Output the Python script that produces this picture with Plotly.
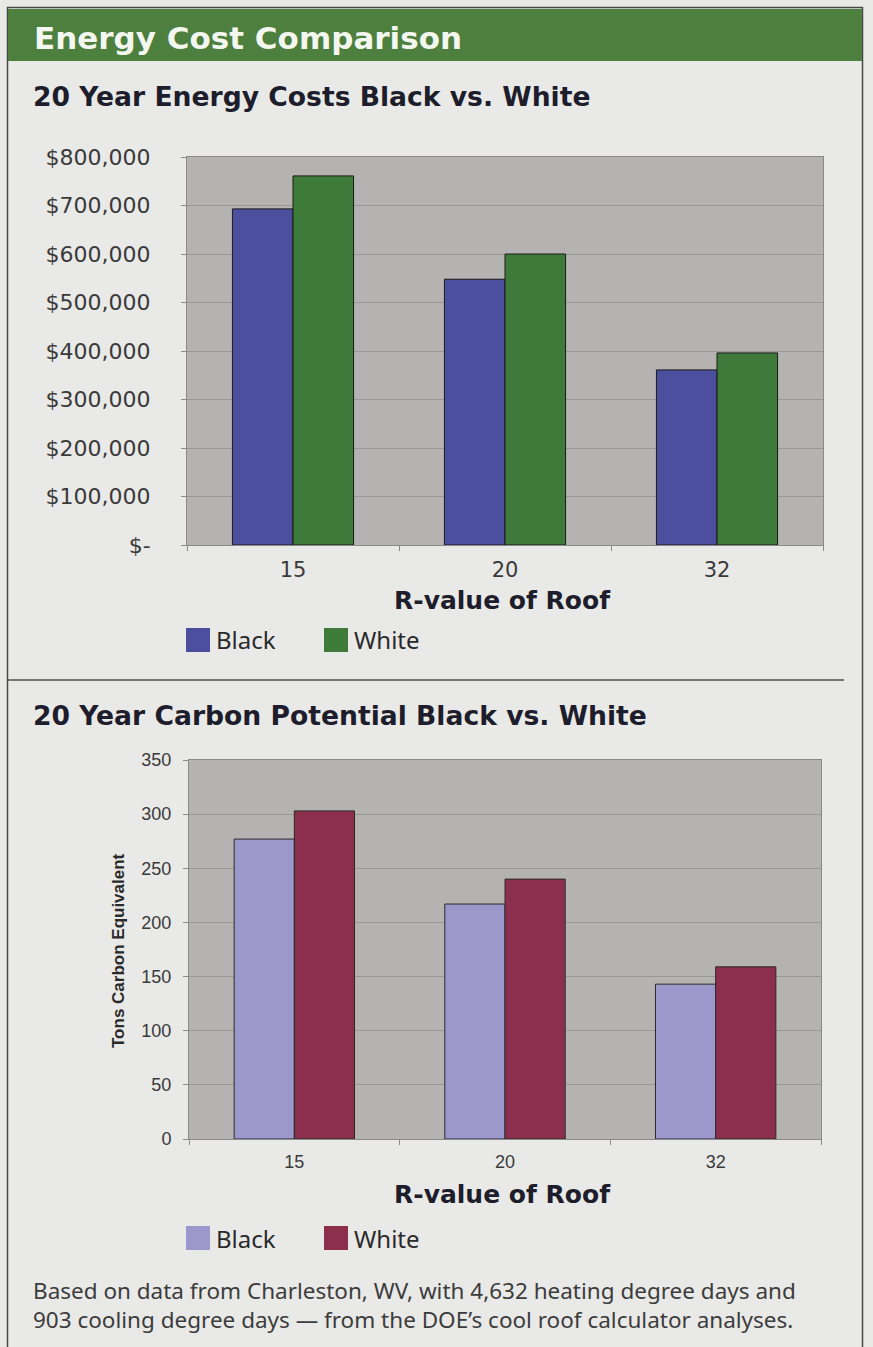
import plotly.graph_objects as go

W, H = 873, 1347

# ---- data ----
r_values = ["15", "20", "32"]
series_names = ["Black", "White"]
energy_black = [693000, 548000, 361000]
energy_white = [761000, 600000, 396000]
energy_ticks = [0, 100000, 200000, 300000, 400000, 500000, 600000, 700000, 800000]
energy_ticktext = ["$-", "$100,000", "$200,000", "$300,000", "$400,000",
                   "$500,000", "$600,000", "$700,000", "$800,000"]
carbon_black = [277, 217, 143]
carbon_white = [303, 240, 159]
carbon_ticks = [0, 50, 100, 150, 200, 250, 300, 350]

# ---- styles ----
C_E_BLACK = "#4b4f9e"
C_E_WHITE = "#3e7b3a"
C_C_BLACK = "#9c98cc"
C_C_WHITE = "#8c2f4f"
PLOT_BG = "#b5b3b1"
PAGE_BG = "#e9e9e7"
GRID = "#9a9896"
HEADER_GREEN = "#4d7f3e"
TITLE_COLOR = "#1d1d2b"


def px(x):
    return x / W


def py(y):
    return 1 - y / H


fig = go.Figure()
fig.add_trace(go.Bar(x=r_values, y=energy_black, name=series_names[0],
                     marker=dict(color=C_E_BLACK, line=dict(color="#1a1a1a", width=1)),
                     xaxis="x", yaxis="y", showlegend=False))
fig.add_trace(go.Bar(x=r_values, y=energy_white, name=series_names[1],
                     marker=dict(color=C_E_WHITE, line=dict(color="#1a1a1a", width=1)),
                     xaxis="x", yaxis="y", showlegend=False))
fig.add_trace(go.Bar(x=r_values, y=carbon_black, name=series_names[0],
                     marker=dict(color=C_C_BLACK, line=dict(color="#2a2a2a", width=1)),
                     xaxis="x2", yaxis="y2", showlegend=False))
fig.add_trace(go.Bar(x=r_values, y=carbon_white, name=series_names[1],
                     marker=dict(color=C_C_WHITE, line=dict(color="#2a2a2a", width=1)),
                     xaxis="x2", yaxis="y2", showlegend=False))

wide_font = "DejaVu Sans, Verdana, sans-serif"
arial = "Liberation Sans, Arial, sans-serif"
leg_font = "Noto Sans, Lato, sans-serif"

fig.update_layout(
    width=W, height=H,
    margin=dict(l=0, r=0, t=0, b=0, pad=0, autoexpand=False),
    paper_bgcolor=PAGE_BG,
    plot_bgcolor=PLOT_BG,
    barmode="group", bargap=0.4286, bargroupgap=0,
    xaxis=dict(domain=[px(187), px(823)], anchor="y", type="category", automargin=False,
               ticks="outside", tickson="boundaries", ticklen=5, tickcolor="#8a8a8a",
               showline=True, linecolor="#8a8a8a", mirror=True,
               tickfont=dict(family=wide_font, size=21, color="#3a3a3a"),
               ticklabelstandoff=6, showgrid=False),
    yaxis=dict(domain=[py(545), py(157)], anchor="x", range=[0, 800000], automargin=False,
               tickvals=energy_ticks, ticktext=energy_ticktext,
               ticks="outside", ticklen=5, tickcolor="#8a8a8a",
               showline=True, linecolor="#8a8a8a", mirror=True,
               gridcolor=GRID, gridwidth=1, zeroline=False,
               tickfont=dict(family=wide_font, size=22, color="#3a3a3a"),
               ticklabelstandoff=26),
    xaxis2=dict(domain=[px(189), px(821)], anchor="y2", type="category", automargin=False,
                ticks="outside", tickson="boundaries", ticklen=5, tickcolor="#8a8a8a",
                showline=True, linecolor="#8a8a8a", mirror=True,
                tickfont=dict(family=arial, size=18, color="#3a3a3a"),
                ticklabelstandoff=6, showgrid=False),
    yaxis2=dict(domain=[py(1139), py(760)], anchor="x2", range=[0, 350], automargin=False,
                tickvals=carbon_ticks,
                ticks="outside", ticklen=5, tickcolor="#8a8a8a",
                showline=True, linecolor="#8a8a8a", mirror=True,
                gridcolor=GRID, gridwidth=1, zeroline=False,
                tickfont=dict(family=arial, size=18, color="#3a3a3a"),
                ticklabelstandoff=8),
)

shapes = [
    # outer frame
    dict(type="rect", xref="paper", yref="paper", x0=px(7.5), x1=px(862.5), y0=py(1360), y1=py(7.5),
         line=dict(color="#4a4a4a", width=1.5), fillcolor="rgba(0,0,0,0)", layer="below"),
    # green header band
    dict(type="rect", xref="paper", yref="paper", x0=px(8), x1=px(862), y0=py(61), y1=py(9),
         line=dict(width=0), fillcolor=HEADER_GREEN, layer="below"),
    # separator line
    dict(type="line", xref="paper", yref="paper", x0=px(8), x1=px(844), y0=py(680), y1=py(680),
         line=dict(color="#505050", width=1.5)),
]


def note(text, x, y, size, family, color, xanchor="left", **kw):
    return dict(text=text, x=px(x), y=py(y), xref="paper", yref="paper",
                xanchor=xanchor, yanchor="middle", showarrow=False,
                font=dict(family=family, size=size, color=color), **kw)


annotations = [
    note("<b>Energy Cost Comparison</b>", 32, 38, 31, wide_font, "#f4f6f0"),
    note("<b>20 Year Energy Costs Black vs. White</b>", 31, 97, 26.6, wide_font, TITLE_COLOR),
    note("<b>20 Year Carbon Potential Black vs. White</b>", 31, 716, 26.6, wide_font, TITLE_COLOR),
    note("<b>R-value of Roof</b>", 503, 600, 25, wide_font, TITLE_COLOR, xanchor="center"),
    note("<b>R-value of Roof</b>", 503, 1194, 25, wide_font, TITLE_COLOR, xanchor="center"),
    note("<b>Tons Carbon Equivalent</b>", 118, 950, 17, arial, "#2a2a2a", xanchor="center", textangle=-90),
    note("Based on data from Charleston, WV, with 4,632 heating degree days and<br>"
         "903 cooling degree days \u2014 from the DOE\u2019s cool roof calculator analyses.",
         31, 1305, 22.5, leg_font, "#3c3c3c", align="left"),
]

# manual legends (large swatches as in the reference)
legend_specs = [
    (640, C_E_BLACK, C_E_WHITE),
    (1238, C_C_BLACK, C_C_WHITE),
]
for yc, c_black, c_white in legend_specs:
    for (x0, txt_x, col, name) in [(186, 214, c_black, series_names[0]),
                                   (324, 352, c_white, series_names[1])]:
        shapes.append(dict(type="rect", xref="paper", yref="paper",
                           x0=px(x0), x1=px(x0 + 24), y0=py(yc + 12), y1=py(yc - 12),
                           line=dict(width=0), fillcolor=col))
        annotations.append(note(name, txt_x, yc, 24, leg_font, "#2a2a2a"))

fig.update_layout(shapes=shapes, annotations=annotations)
fig.write_html("out.html")
